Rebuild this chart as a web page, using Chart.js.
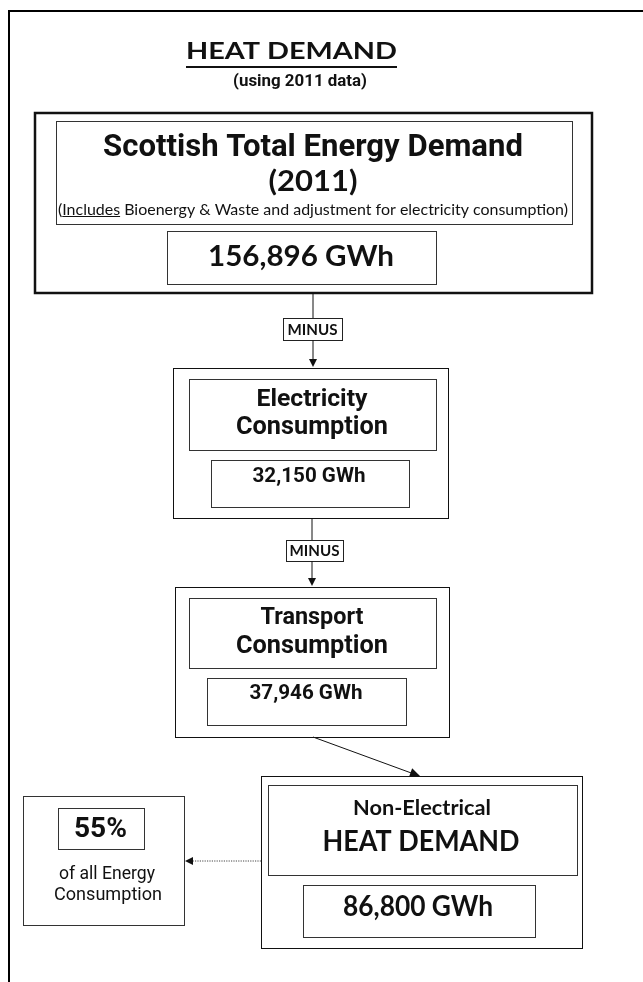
<!DOCTYPE html>
<html>
<head>
<meta charset="utf-8">
<title>Heat Demand (2011)</title>
<script src="https://cdn.jsdelivr.net/npm/chart.js@4.4.1/dist/chart.umd.min.js"></script>
<style>
  html, body { margin: 0; padding: 0; background: #fff; }
  canvas { display: block; }
</style>
</head>
<body>
<canvas id="flow" width="643" height="982"></canvas>
<script>
// figures
const stageTitles = [
    ['Scottish Total Energy Demand', '(2011)'],
    ['Electricity', 'Consumption'],
    ['Transport', 'Consumption'],
    ['Non-Electrical', 'HEAT DEMAND']
];
const stageGWh = [156896, 32150, 37946, 86800];
const stepLabels = ['MINUS', 'MINUS'];
const heatShare = [55];
const shareCaption = ['of all Energy', 'Consumption'];
const noteParts = ['(', 'Includes', ' Bioenergy & Waste and adjustment for electricity consumption)'];
const heading = ['HEAT DEMAND', '(using 2011 data)'];

// layout, in diagram units (same as pixels here)
const GOTHIC = 'Roboto';
const CALIBRI = 'Lato';

// text spec: [centre x, centre y, width, family, font size (only for squeezed text)]
const frames = [
    {outer: [35, 113, 592, 293], lw: 2.5, head: [56, 121, 572, 224], value: [167, 231, 436, 284],
        lines: [[313, 148, 420, GOTHIC], [313, 182, 89, CALIBRI, 28]], num: [301, 257, 186, CALIBRI, 29]},
    {outer: [173, 368, 448, 518], lw: 1, head: [189, 379, 436, 450], value: [211, 460, 409, 507],
        lines: [[312, 400, 111, GOTHIC], [312, 428, 152, GOTHIC]], num: [309, 477, 113, GOTHIC]},
    {outer: [175, 587, 449, 737], lw: 1, head: [189, 598, 436, 668], value: [207, 678, 406, 725],
        lines: [[312, 618, 103, GOTHIC], [312, 647, 152, GOTHIC]], num: [306, 694, 113, GOTHIC]},
    {outer: [261, 776, 582, 948], lw: 1, head: [268, 785, 577, 875], value: [303, 885, 535, 937],
        lines: [[422, 808, 138, CALIBRI, 21], [421, 842, 197, CALIBRI, 28]], num: [418, 907, 150, CALIBRI, 28]}
];

const steps = [
    {x: 313, from: 293, box: [283, 318, 342, 340], to: 367, text: [312.5, 330, 50]},
    {x: 312, from: 518, box: [286, 540, 343, 561], to: 586, text: [314.5, 551, 50]}
];

const flowPlugin = {
    id: 'flowDiagram',
    afterDraw(chart) {
        const ctx = chart.ctx;
        const xs = chart.scales.x, ys = chart.scales.y;
        const px = v => xs.getPixelForValue(v);
        const py = v => ys.getPixelForValue(v);

        const box = (r, lw, color) => {
            const off = lw % 2 === 1 ? 0.5 : 0;
            const l = Math.round(px(r[0])) + off, t = Math.round(py(r[1])) + off;
            const rr = Math.round(px(r[2])) + off, b = Math.round(py(r[3])) + off;
            ctx.save();
            ctx.lineWidth = lw;
            ctx.strokeStyle = color || '#222';
            ctx.strokeRect(l, t, rr - l, b - t);
            ctx.restore();
        };

        // width taken from the original; with a size the text is squeezed instead of scaled
        const text = (str, cx, cy, w, weight, family, size) => {
            const tw = px(w) - px(0);
            ctx.save();
            ctx.fillStyle = '#111';
            ctx.textAlign = 'center';
            ctx.textBaseline = 'middle';
            if (size) {
                ctx.font = weight + ' ' + size + 'px ' + family;
                const nw = ctx.measureText(str).width;
                ctx.translate(px(cx), py(cy));
                ctx.scale(tw / nw, 1);
                ctx.fillText(str, 0, 0);
            } else {
                ctx.font = weight + ' 100px ' + family;
                const s = 100 * tw / ctx.measureText(str).width;
                ctx.font = weight + ' ' + s.toFixed(2) + 'px ' + family;
                ctx.fillText(str, px(cx), py(cy));
            }
            ctx.restore();
        };

        const arrowHead = (x1, y1, x2, y2, len, half) => {
            const a = Math.atan2(py(y2) - py(y1), px(x2) - px(x1));
            const tx = px(x2), ty = py(y2);
            ctx.beginPath();
            ctx.moveTo(tx, ty);
            ctx.lineTo(tx - len * Math.cos(a) + half * Math.sin(a), ty - len * Math.sin(a) - half * Math.cos(a));
            ctx.lineTo(tx - len * Math.cos(a) - half * Math.sin(a), ty - len * Math.sin(a) + half * Math.cos(a));
            ctx.closePath();
            ctx.fillStyle = '#111';
            ctx.fill();
        };

        const line = (x1, y1, x2, y2, dash) => {
            ctx.save();
            ctx.strokeStyle = dash ? '#444' : '#111';
            ctx.lineWidth = 1;
            if (dash) ctx.setLineDash(dash);
            ctx.beginPath();
            ctx.moveTo(px(x1), py(y1));
            ctx.lineTo(px(x2), py(y2));
            ctx.stroke();
            ctx.restore();
        };

        // page frame (cut at right and bottom)
        ctx.save();
        ctx.lineWidth = 2;
        ctx.strokeStyle = '#000';
        ctx.beginPath();
        ctx.moveTo(px(9), py(982));
        ctx.lineTo(px(9), py(11));
        ctx.lineTo(px(643), py(11));
        ctx.stroke();
        ctx.restore();

        // heading
        text(heading[0], 291.5, 52, 211, 'bold', CALIBRI, 23);
        ctx.fillStyle = '#111';
        ctx.fillRect(px(186), py(66), px(397) - px(186), 2);
        text(heading[1], 300, 82, 134, 'bold', GOTHIC);

        // stage boxes
        frames.forEach((f, i) => {
            box(f.outer, f.lw, '#111');
            box(f.head, 1, '#333');
            box(f.value, 1, '#333');
            stageTitles[i].forEach((s, j) => {
                const [cx, cy, w, fam, size] = f.lines[j];
                text(s, cx, cy, w, 'bold', fam, size);
            });
            const [cx, cy, w, fam, size] = f.num;
            text(stageGWh[i].toLocaleString('en-US') + ' GWh', cx, cy, w, 'bold', fam, size);
        });

        // note with underlined "Includes"
        ctx.save();
        ctx.font = '15px ' + CALIBRI;
        const full = ctx.measureText(noteParts.join('')).width;
        const sq = 510 / full;
        ctx.translate(px(313) - 255, py(210));
        ctx.scale(sq, 1);
        ctx.textAlign = 'left';
        ctx.textBaseline = 'middle';
        ctx.fillStyle = '#111';
        let nx = 0;
        noteParts.forEach((p, k) => {
            const w = ctx.measureText(p).width;
            ctx.fillText(p, nx, 0);
            if (k === 1) ctx.fillRect(nx, 6, w, 1);
            nx += w;
        });
        ctx.restore();

        // MINUS steps
        steps.forEach((s, i) => {
            line(s.x, s.from, s.x, s.box[1]);
            box(s.box, 1, '#222');
            line(s.x, s.box[3], s.x, s.to - 6);
            arrowHead(s.x, s.box[3], s.x, s.to, 8, 4);
            text(stepLabels[i], s.text[0], s.text[1], s.text[2], 'bold', CALIBRI, 16);
        });

        // transport -> heat demand
        line(313, 737, 414, 774);
        arrowHead(313, 737, 420, 776, 10, 4.5);

        // share box
        box([23, 796, 184, 925], 1, '#333');
        box([58, 808, 144, 849], 1, '#333');
        text(heatShare[0] + '%', 100.5, 830, 53, 'bold', GOTHIC);
        text(shareCaption[0], 107, 875, 96, 'normal', GOTHIC);
        text(shareCaption[1], 108, 895, 108, 'normal', GOTHIC);
        line(261, 861, 192, 861, [1.2, 1.2]);
        arrowHead(261, 861, 185, 861, 8, 4);
    }
};

new Chart(document.getElementById('flow'), {
    type: 'scatter',
    data: {datasets: [{data: []}]},
    options: {
        responsive: false,
        animation: false,
        devicePixelRatio: 1,
        layout: {padding: 0},
        plugins: {legend: {display: false}, tooltip: {enabled: false}},
        scales: {
            x: {type: 'linear', min: 0, max: 643, display: false},
            y: {type: 'linear', min: 0, max: 982, reverse: true, display: false}
        }
    },
    plugins: [flowPlugin]
});
</script>
</body>
</html>
